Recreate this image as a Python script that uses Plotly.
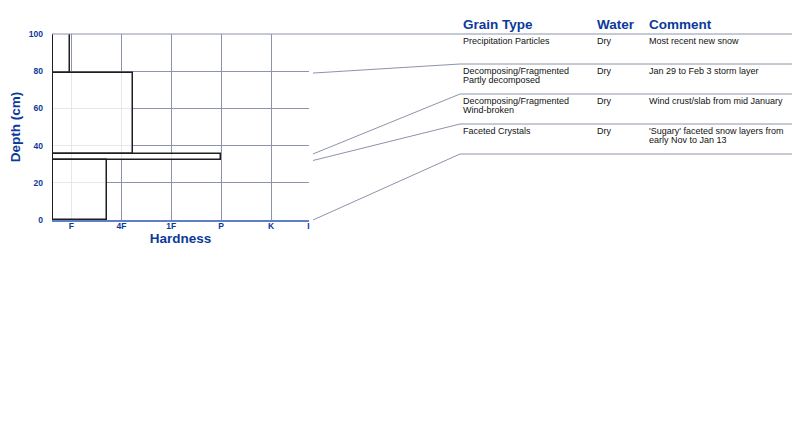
import plotly.graph_objects as go

# snow layers (depth in cm, hardness on the hand-hardness scale)
depth_top = [100, 79, 35.5, 32]
depth_bottom = [79, 35.5, 32, 0]
hardness = [0.97, 2.23, 4.0, 1.72]

hardness_ticks = [1, 2, 3, 4, 5, 5.75]
hardness_labels = ["F", "4F", "1F", "P", "K", "I"]
depth_ticks = [0, 20, 40, 60, 80, 100]

headers = ["Grain Type", "Water", "Comment"]
grain_type = ["Precipitation Particles",
              "Decomposing/Fragmented<br>Partly decomposed",
              "Decomposing/Fragmented<br>Wind-broken",
              "Faceted Crystals"]
water = ["Dry", "Dry", "Dry", "Dry"]
comment = ["Most recent new snow",
           "Jan 29 to Feb 3 storm layer",
           "Wind crust/slab from mid January",
           "'Sugary' faceted snow layers from<br>early Nov to Jan 13"]

BLUE = "#0b3a9a"
GRID = "#8b94a8"
FONT = "Liberation Sans, Arial, sans-serif"

# plot box in page pixels; the page body adds an 8px offset
OFF = 8
W, H = 816, 433
L, R, T, B = 52, 309, 34, 220
x_min = 0.63


def px(x):
    return (x - L) / (R - L)


def py(y):
    return (B - y) / (B - T)


fig = go.Figure()

fig.add_trace(go.Bar(
    orientation="h",
    y=[(t + b) / 2 for t, b in zip(depth_top, depth_bottom)],
    width=[t - b for t, b in zip(depth_top, depth_bottom)],
    x=[h - x_min for h in hardness],
    base=x_min,
    marker=dict(color="rgba(255,255,255,0.78)", line=dict(color="#1e1e1e", width=1.5)),
    hoverinfo="skip",
    showlegend=False,
))

shapes = []
# top line runs across the whole width
shapes.append(dict(type="line", xref="paper", yref="paper", x0=0, x1=px(830), y0=1, y1=1,
                   line=dict(color=GRID, width=1)))

row_h = 30
col_x = [461, 595, 647]
for i in range(len(grain_type)):
    row_bottom = T + (i + 1) * row_h
    shapes.append(dict(type="line", xref="paper", yref="paper", x0=px(460), x1=px(830),
                       y0=py(row_bottom), y1=py(row_bottom), line=dict(color=GRID, width=1)))
    # connector from the layer bottom to the table row line
    shapes.append(dict(type="line", xref="paper", yref="paper", x0=px(313), x1=px(460),
                       y0=depth_bottom[i] / 100, y1=py(row_bottom), line=dict(color=GRID, width=1)))

annotations = []
for cx, h in zip(col_x, headers):
    annotations.append(dict(text="<b>" + h + "</b>", xref="paper", yref="paper", x=px(cx), y=py(24),
                            xanchor="left", yanchor="middle", showarrow=False,
                            font=dict(family=FONT, size=13.5, color=BLUE)))

for i in range(len(grain_type)):
    row_top = T + i * row_h
    for cx, cell in zip(col_x, [grain_type[i], water[i], comment[i]]):
        for k, line in enumerate(cell.split("<br>")):
            annotations.append(dict(text=line, xref="paper", yref="paper", x=px(cx),
                                    y=py(row_top + 7 + 9 * k), xanchor="left", yanchor="middle",
                                    showarrow=False, font=dict(family=FONT, size=9, color="#111111")))

fig.update_layout(
    width=W, height=H, autosize=False,
    margin=dict(l=L - OFF, r=W - R + OFF, t=T - OFF, b=H - B + OFF, pad=0),
    plot_bgcolor="white", paper_bgcolor="white",
    font=dict(family=FONT),
    shapes=shapes,
    annotations=annotations,
    bargap=0,
)

fig.update_xaxes(
    range=[x_min - 0.02, 5.76], tickvals=hardness_ticks, ticktext=hardness_labels,
    showgrid=True, gridcolor=GRID, gridwidth=1, zeroline=False,
    showline=True, linecolor="#5d80c8", linewidth=1.5,
    tickfont=dict(family=FONT, size=8.5, color=BLUE, weight="bold"),
    ticklabelstandoff=-3,
    title=dict(text="<b>Hardness</b>", font=dict(family=FONT, size=13.5, color=BLUE), standoff=2),
    automargin=False,
    fixedrange=True,
)
fig.update_yaxes(
    range=[0, 100], tickvals=depth_ticks,
    showgrid=True, gridcolor=GRID, gridwidth=1, zeroline=False,
    tickfont=dict(family=FONT, size=8.5, color=BLUE, weight="bold"),
    ticklabelstandoff=8,
    title=dict(text="<b>Depth (cm)</b>", font=dict(family=FONT, size=13.5, color=BLUE), standoff=10),
    automargin=False,
    fixedrange=True,
)

fig.write_html("out.html")
